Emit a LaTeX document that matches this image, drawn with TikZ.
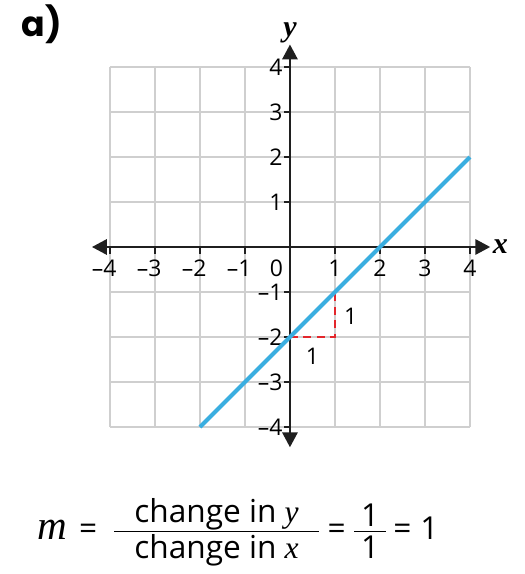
\documentclass[tikz,border=0pt]{standalone}
\usepackage{fontspec}
\setmainfont{Open Sans}
\newfontfamily\headfont{Poppins}
\newfontfamily\varfont{Liberation Serif}
\usetikzlibrary{arrows.meta}
\definecolor{gridgrey}{HTML}{CFCFCF}
\definecolor{lineblue}{HTML}{3AAEE0}
\definecolor{stepred}{HTML}{E3262B}
\newcommand{\vname}[1]{{\varfont\itshape #1}}
\newcommand{\padfrac}[3]{{\textstyle\frac{\mbox{\hspace{#1}#2\hspace{#1}}}{\mbox{\rule{0pt}{17pt}#3}}}}

\begin{document}
\begin{tikzpicture}[x=1cm, y=1cm, font=\fontsize{14.5}{17}\selectfont,
  grid/.style={draw=gridgrey, line width=1pt},
  axis/.style={draw=black!88, line width=1.3pt,
               {Triangle[length=3.3mm, width=3.4mm]}-{Triangle[length=3.3mm, width=3.4mm]}},
  tick/.style={draw=black!88, line width=1pt},
  graph/.style={draw=lineblue, line width=2.6pt},
  stepline/.style={draw=stepred, line width=1.7pt, dash pattern=on 5pt off 3.5pt},
  xlab/.style={anchor=base, inner sep=0pt},
  ylab/.style={anchor=base east, inner sep=0pt},
  axlab/.style={font=\fontsize{19}{21}\selectfont\varfont\bfseries\itshape, inner sep=0pt}]
\useasboundingbox (-6.444,-7.267) rectangle (5.222,5.489);

% ---------------- heading
\node[font=\fontsize{22}{24}\selectfont\headfont\bfseries] (head) at (-5.52,4.95) {a)};

% ---------------- grid and axes
\foreach \i in {-4,...,4} {
  \draw[grid] (\i,-4) -- (\i,4);
  \draw[grid] (-4,\i) -- (4,\i);
}
\coordinate (xl) at (-4.4,0); \coordinate (xr) at (4.45,0);
\coordinate (yb) at (0,-4.45); \coordinate (yt) at (0,4.5);
\draw[axis] (xl) -- (xr);
\draw[axis] (yb) -- (yt);
\node[axlab, anchor=west] (xname) at (4.5,0) {x};
\node[axlab, anchor=south] (yname) at (0,4.52) {y};

% ---------------- ticks and numbers
\foreach \k in {-4,...,-1} {
  \draw[tick] (\k,0) -- (\k,-0.15);
  \draw[tick] (0,\k) -- (-0.13,\k);
  \node[xlab] (xn\k) at (\k,-0.66) {\llap{–}\the\numexpr-\k\relax};
  \node[ylab] (yn\k) at (-0.16,\k-0.18) {–\the\numexpr-\k\relax};
}
\foreach \k in {1,...,4} {
  \draw[tick] (\k,0) -- (\k,-0.15);
  \draw[tick] (0,\k) -- (-0.13,\k);
  \node[xlab] (xn\k) at (\k,-0.66) {\k};
  \node[ylab] (yn\k) at (-0.16,\k-0.18) {\k};
}
\node[xlab] (zero) at (-0.3,-0.66) {0};

% ---------------- line and gradient step
\coordinate (A) at (-2,-4); \coordinate (B) at (4,2);
\coordinate (P) at (0,-2); \coordinate (C) at (1,-2); \coordinate (Q) at (1,-1);
\draw[stepline] (P) -- (C) -- (Q);
\draw[graph] (A) -- (B);
\node (rise) at (1.35,-1.53) {1};
\node (run) at (0.5,-2.44) {1};

% ---------------- gradient formula
\node[font=\fontsize{20}{24}\selectfont, anchor=base west, inner sep=0pt] (grad) at (-5.62,-6.49)
  {$\mbox{\fontsize{26}{26}\selectfont\vname{m}}\hspace{0.27cm}\mbox{=}\hspace{0.33cm}%
    \padfrac{0.45cm}{change in \vname{y}}{change in \vname{x}}\hspace{0.15cm}\mbox{=}\hspace{0.15cm}%
    \padfrac{0.15cm}{1}{1}\hspace{0.12cm}\mbox{=}\hspace{0.2cm}\mbox{1}$};
\end{tikzpicture}
\end{document}
